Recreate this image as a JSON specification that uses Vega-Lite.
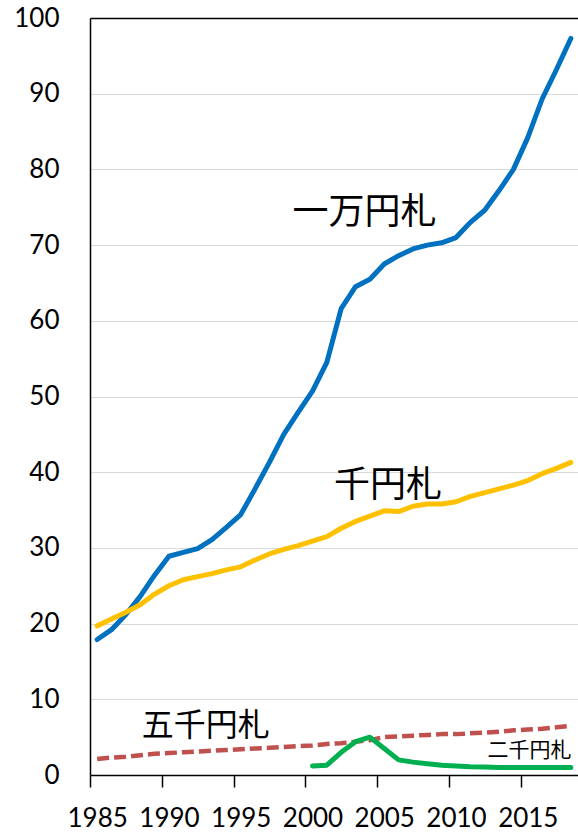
{
  "$schema": "https://vega.github.io/schema/vega-lite/v6.json",
  "width": 488,
  "height": 757,
  "autosize": {"type": "none"},
  "padding": {"left": 90, "top": 18, "right": 0, "bottom": 57},
  "background": "white",
  "config": {"view": {"stroke": null}},
  "datasets": {
    "notes": [
      {"year": 1985, "series": "一万円札", "value": 17.9},
      {"year": 1986, "series": "一万円札", "value": 19.2},
      {"year": 1987, "series": "一万円札", "value": 21.2},
      {"year": 1988, "series": "一万円札", "value": 23.6},
      {"year": 1989, "series": "一万円札", "value": 26.4},
      {"year": 1990, "series": "一万円札", "value": 28.9},
      {"year": 1991, "series": "一万円札", "value": 29.4},
      {"year": 1992, "series": "一万円札", "value": 29.9},
      {"year": 1993, "series": "一万円札", "value": 31.1},
      {"year": 1994, "series": "一万円札", "value": 32.7},
      {"year": 1995, "series": "一万円札", "value": 34.4},
      {"year": 1996, "series": "一万円札", "value": 37.8},
      {"year": 1997, "series": "一万円札", "value": 41.3},
      {"year": 1998, "series": "一万円札", "value": 45.0},
      {"year": 1999, "series": "一万円札", "value": 47.9},
      {"year": 2000, "series": "一万円札", "value": 50.7},
      {"year": 2001, "series": "一万円札", "value": 54.5},
      {"year": 2002, "series": "一万円札", "value": 61.6},
      {"year": 2003, "series": "一万円札", "value": 64.5},
      {"year": 2004, "series": "一万円札", "value": 65.5},
      {"year": 2005, "series": "一万円札", "value": 67.5},
      {"year": 2006, "series": "一万円札", "value": 68.6},
      {"year": 2007, "series": "一万円札", "value": 69.5},
      {"year": 2008, "series": "一万円札", "value": 70.0},
      {"year": 2009, "series": "一万円札", "value": 70.3},
      {"year": 2010, "series": "一万円札", "value": 71.0},
      {"year": 2011, "series": "一万円札", "value": 73.0},
      {"year": 2012, "series": "一万円札", "value": 74.6},
      {"year": 2013, "series": "一万円札", "value": 77.2},
      {"year": 2014, "series": "一万円札", "value": 80.0},
      {"year": 2015, "series": "一万円札", "value": 84.2},
      {"year": 2016, "series": "一万円札", "value": 89.3},
      {"year": 2017, "series": "一万円札", "value": 93.2},
      {"year": 2018, "series": "一万円札", "value": 97.3},
      {"year": 1985, "series": "千円札", "value": 19.7},
      {"year": 1986, "series": "千円札", "value": 20.6},
      {"year": 1987, "series": "千円札", "value": 21.5},
      {"year": 1988, "series": "千円札", "value": 22.5},
      {"year": 1989, "series": "千円札", "value": 23.9},
      {"year": 1990, "series": "千円札", "value": 25.0},
      {"year": 1991, "series": "千円札", "value": 25.8},
      {"year": 1992, "series": "千円札", "value": 26.2},
      {"year": 1993, "series": "千円札", "value": 26.6},
      {"year": 1994, "series": "千円札", "value": 27.1},
      {"year": 1995, "series": "千円札", "value": 27.5},
      {"year": 1996, "series": "千円札", "value": 28.4},
      {"year": 1997, "series": "千円札", "value": 29.2},
      {"year": 1998, "series": "千円札", "value": 29.8},
      {"year": 1999, "series": "千円札", "value": 30.3},
      {"year": 2000, "series": "千円札", "value": 30.9},
      {"year": 2001, "series": "千円札", "value": 31.5},
      {"year": 2002, "series": "千円札", "value": 32.6},
      {"year": 2003, "series": "千円札", "value": 33.5},
      {"year": 2004, "series": "千円札", "value": 34.2},
      {"year": 2005, "series": "千円札", "value": 34.9},
      {"year": 2006, "series": "千円札", "value": 34.8},
      {"year": 2007, "series": "千円札", "value": 35.5},
      {"year": 2008, "series": "千円札", "value": 35.8},
      {"year": 2009, "series": "千円札", "value": 35.8},
      {"year": 2010, "series": "千円札", "value": 36.1},
      {"year": 2011, "series": "千円札", "value": 36.8},
      {"year": 2012, "series": "千円札", "value": 37.3},
      {"year": 2013, "series": "千円札", "value": 37.8},
      {"year": 2014, "series": "千円札", "value": 38.3},
      {"year": 2015, "series": "千円札", "value": 38.9},
      {"year": 2016, "series": "千円札", "value": 39.8},
      {"year": 2017, "series": "千円札", "value": 40.5},
      {"year": 2018, "series": "千円札", "value": 41.3},
      {"year": 1985, "series": "五千円札", "value": 2.1},
      {"year": 1986, "series": "五千円札", "value": 2.3},
      {"year": 1987, "series": "五千円札", "value": 2.4},
      {"year": 1988, "series": "五千円札", "value": 2.6},
      {"year": 1989, "series": "五千円札", "value": 2.8},
      {"year": 1990, "series": "五千円札", "value": 2.9},
      {"year": 1991, "series": "五千円札", "value": 3.0},
      {"year": 1992, "series": "五千円札", "value": 3.1},
      {"year": 1993, "series": "五千円札", "value": 3.2},
      {"year": 1994, "series": "五千円札", "value": 3.3},
      {"year": 1995, "series": "五千円札", "value": 3.4},
      {"year": 1996, "series": "五千円札", "value": 3.5},
      {"year": 1997, "series": "五千円札", "value": 3.6},
      {"year": 1998, "series": "五千円札", "value": 3.7},
      {"year": 1999, "series": "五千円札", "value": 3.8},
      {"year": 2000, "series": "五千円札", "value": 3.9},
      {"year": 2001, "series": "五千円札", "value": 4.1},
      {"year": 2002, "series": "五千円札", "value": 4.2},
      {"year": 2003, "series": "五千円札", "value": 4.4},
      {"year": 2004, "series": "五千円札", "value": 4.6},
      {"year": 2005, "series": "五千円札", "value": 5.0},
      {"year": 2006, "series": "五千円札", "value": 5.1},
      {"year": 2007, "series": "五千円札", "value": 5.2},
      {"year": 2008, "series": "五千円札", "value": 5.3},
      {"year": 2009, "series": "五千円札", "value": 5.4},
      {"year": 2010, "series": "五千円札", "value": 5.4},
      {"year": 2011, "series": "五千円札", "value": 5.5},
      {"year": 2012, "series": "五千円札", "value": 5.6},
      {"year": 2013, "series": "五千円札", "value": 5.7},
      {"year": 2014, "series": "五千円札", "value": 5.9},
      {"year": 2015, "series": "五千円札", "value": 6.0},
      {"year": 2016, "series": "五千円札", "value": 6.1},
      {"year": 2017, "series": "五千円札", "value": 6.3},
      {"year": 2018, "series": "五千円札", "value": 6.5},
      {"year": 2000, "series": "二千円札", "value": 1.2},
      {"year": 2001, "series": "二千円札", "value": 1.3},
      {"year": 2002, "series": "二千円札", "value": 3.0},
      {"year": 2003, "series": "二千円札", "value": 4.4},
      {"year": 2004, "series": "二千円札", "value": 5.0},
      {"year": 2005, "series": "二千円札", "value": 3.5},
      {"year": 2006, "series": "二千円札", "value": 2.0},
      {"year": 2007, "series": "二千円札", "value": 1.7},
      {"year": 2008, "series": "二千円札", "value": 1.5},
      {"year": 2009, "series": "二千円札", "value": 1.3},
      {"year": 2010, "series": "二千円札", "value": 1.2},
      {"year": 2011, "series": "二千円札", "value": 1.1},
      {"year": 2012, "series": "二千円札", "value": 1.05},
      {"year": 2013, "series": "二千円札", "value": 1.0},
      {"year": 2014, "series": "二千円札", "value": 1.0},
      {"year": 2015, "series": "二千円札", "value": 1.0},
      {"year": 2016, "series": "二千円札", "value": 1.0},
      {"year": 2017, "series": "二千円札", "value": 1.0},
      {"year": 2018, "series": "二千円札", "value": 1.0}
    ],
    "labels": [
      {"label": "一万円札", "year": 1998.6, "value": 74.2},
      {"label": "千円札", "year": 2001.5, "value": 38.2},
      {"label": "五千円札", "year": 1988.1, "value": 6.5},
      {"label": "二千円札", "year": 2012.2, "value": 3.2}
    ]
  },
  "encoding": {
    "x": {
      "field": "year",
      "type": "quantitative",
      "scale": {"domain": [1984.5, 2018.5], "nice": false, "zero": false},
      "axis": {
        "values": [1984.5, 1989.5, 1994.5, 1999.5, 2004.5, 2009.5, 2014.5],
        "labelExpr": "'' + (datum.value + 0.5)",
        "labelOffset": 7.2,
        "grid": false,
        "title": null,
        "tickSize": 12,
        "tickColor": "black",
        "tickWidth": 1.5,
        "domainColor": "black",
        "domainWidth": 1.5,
        "labelFont": "Lato",
        "labelFontSize": 26,
        "labelColor": "black",
        "labelPadding": 18,
        "labelFlush": false,
        "labelOverlap": false
      }
    },
    "y": {
      "field": "value",
      "type": "quantitative",
      "scale": {"domain": [0, 100], "nice": false},
      "axis": {
        "values": [0, 10, 20, 30, 40, 50, 60, 70, 80, 90, 100],
        "grid": true,
        "gridColor": {"condition": {"test": "datum.value === 100", "value": "black"}, "value": "#D9D9D9"},
        "gridWidth": {"condition": {"test": "datum.value === 100", "value": 1.5}, "value": 1.2},
        "ticks": false,
        "title": null,
        "domainColor": "black",
        "domainWidth": 1.5,
        "labelFont": "Lato",
        "labelFontSize": 26,
        "labelColor": "black",
        "labelPadding": 31,
        "labelFlush": false,
        "labelOverlap": false
      }
    }
  },
  "layer": [
    {
      "data": {"name": "notes"},
      "transform": [{"filter": "datum.series === '一万円札'"}],
      "mark": {"type": "line", "color": "#0070C0", "strokeWidth": 5, "strokeJoin": "round", "strokeCap": "round"}
    },
    {
      "data": {"name": "notes"},
      "transform": [{"filter": "datum.series === '千円札'"}],
      "mark": {"type": "line", "color": "#FFC000", "strokeWidth": 5, "strokeJoin": "round", "strokeCap": "round"}
    },
    {
      "data": {"name": "notes"},
      "transform": [{"filter": "datum.series === '五千円札'"}],
      "mark": {"type": "line", "color": "#C0504D", "strokeWidth": 4.5, "strokeDash": [12, 5], "strokeJoin": "round"}
    },
    {
      "data": {"name": "notes"},
      "transform": [{"filter": "datum.series === '二千円札'"}],
      "mark": {"type": "line", "color": "#00B050", "strokeWidth": 5, "strokeJoin": "round", "strokeCap": "round"}
    },
    {
      "data": {"name": "labels"},
      "transform": [{"filter": "datum.label === '一万円札' || datum.label === '千円札'"}],
      "mark": {"type": "text", "align": "left", "baseline": "middle", "font": "Noto Sans CJK JP", "fontSize": 36, "color": "black"},
      "encoding": {"text": {"field": "label"}}
    },
    {
      "data": {"name": "labels"},
      "transform": [{"filter": "datum.label === '五千円札'"}],
      "mark": {"type": "text", "align": "left", "baseline": "middle", "font": "Noto Sans CJK JP", "fontSize": 32, "color": "black"},
      "encoding": {"text": {"field": "label"}}
    },
    {
      "data": {"name": "labels"},
      "transform": [{"filter": "datum.label === '二千円札'"}],
      "mark": {"type": "text", "align": "left", "baseline": "middle", "font": "Noto Sans CJK JP", "fontSize": 21, "color": "black"},
      "encoding": {"text": {"field": "label"}}
    }
  ]
}
